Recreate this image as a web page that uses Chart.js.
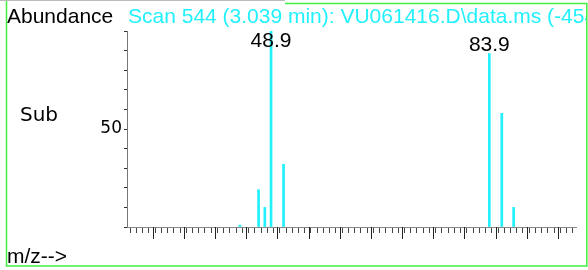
<!DOCTYPE html>
<html>
<head>
<meta charset="utf-8">
<script src="https://cdn.jsdelivr.net/npm/chart.js@4.4.0/dist/chart.umd.min.js"></script>
<style>
    html, body { margin: 0; padding: 0; background: #fff; }
    canvas { display: block; }
</style>
</head>
<body>
<canvas id="espectro" width="588" height="270"></canvas>
<script>
// Dados do espectro (m/z e abundância relativa)
const massas = [43.9, 46.9, 47.9, 48.9, 50.9, 83.9, 85.9, 87.8];
const abundancias = [1, 19, 10, 100, 32, 88.5, 58, 10];
const picosRotulados = [48.9, 83.9]; // picos que ganham o rótulo em cima
const rotulosY = [50]; // única marca do eixo Y com texto
const tituloScan = 'Scan 544 (3.039 min): VU061416.D\\data.ms (-454) (-)';

const corPico = '#22f0fc';
const fonteArial = '"Liberation Sans", Arial, sans-serif';

// Plugin que escreve os textos soltos e as marcas maiores do eixo X
const textosExtras = {
    id: 'textosExtras',
    beforeDraw(chart) {
        const c = chart.ctx;
        c.save();
        c.fillStyle = '#fff';
        c.fillRect(0, 0, chart.width, chart.height);
        c.restore();
    },
    afterDraw(chart) {
        const c = chart.ctx;
        const x = chart.scales.x;
        const y = chart.scales.y;
        c.save();

        // marcas maiores a cada 5 unidades
        c.strokeStyle = '#222';
        c.lineWidth = 1;
        for (let v = Math.ceil(x.min / 5) * 5; v <= x.max; v += 5) {
            const px = Math.round(x.getPixelForValue(v) - 0.5) + 0.5;
            c.beginPath();
            c.moveTo(px, y.bottom);
            c.lineTo(px, y.bottom + 12);
            c.stroke();
        }

        // rótulos dos picos principais
        c.fillStyle = '#000';
        c.font = '21px ' + fonteArial;
        c.textAlign = 'center';
        c.textBaseline = 'alphabetic';
        picosRotulados.forEach(m => {
            const i = massas.indexOf(m);
            const topo = y.getPixelForValue(abundancias[i]);
            const py = Math.max(topo - 2.5, y.top + 16);
            c.fillText(m.toFixed(1), x.getPixelForValue(m), py);
        });

        // textos do cabeçalho e do rodapé
        c.textAlign = 'left';
        c.fillText('Abundance', 7, 23);
        c.fillText('m/z-->', 7, 263);

        c.save();
        c.beginPath();
        c.rect(0, 0, 586, 270);
        c.clip();
        c.fillStyle = corPico;
        c.fillText(tituloScan, 128, 23);
        c.restore();

        c.font = '20px "DejaVu Sans", sans-serif';
        c.fillText('Sub', 20, 121);

        // moldura verde
        c.strokeStyle = 'rgb(64,240,64)';
        c.lineWidth = 1.5;
        c.beginPath();
        c.moveTo(285, 3.5);
        c.lineTo(586.8, 3.5);
        c.lineTo(586.8, 266);
        c.lineTo(6.5, 266);
        c.lineTo(6.5, 0);
        c.stroke();
        c.strokeStyle = '#bbb';
        c.lineWidth = 1;
        c.beginPath();
        c.moveTo(0, 0.5);
        c.lineTo(285, 0.5);
        c.stroke();

        c.restore();
    }
};

const ctx = document.getElementById('espectro').getContext('2d');

new Chart(ctx, {
    type: 'bar',
    data: {
        datasets: [{
            data: massas.map((m, i) => ({ x: m, y: abundancias[i] })),
            backgroundColor: corPico,
            borderWidth: 0,
            barThickness: 2
        }]
    },
    options: {
        responsive: false,
        animation: false,
        layout: { padding: { top: 31, right: 12, left: 0, bottom: 0 } },
        plugins: {
            legend: { display: false },
            tooltip: { enabled: false }
        },
        scales: {
            x: {
                type: 'linear',
                min: 25.8,
                max: 97.8,
                offset: false,
                afterFit(s) { s.height = 43; },
                border: { display: true, color: '#888', width: 1 },
                grid: { drawOnChartArea: false, tickLength: 6, tickColor: '#444' },
                ticks: {
                    stepSize: 1,
                    includeBounds: false,
                    autoSkip: false,
                    maxRotation: 0,
                    callback: () => ''
                }
            },
            y: {
                min: 0,
                max: 100,
                afterFit(s) { s.width = 127; },
                border: { display: true, color: '#777', width: 1 },
                grid: { drawOnChartArea: false, tickLength: 3, tickColor: '#333' },
                ticks: {
                    stepSize: 10,
                    padding: 2,
                    autoSkip: false,
                    color: '#000',
                    font: { family: '"DejaVu Sans", sans-serif', size: 17 },
                    callback: v => rotulosY.includes(v) ? String(v) : ''
                }
            }
        }
    },
    plugins: [textosExtras]
});
</script>
</body>
</html>
